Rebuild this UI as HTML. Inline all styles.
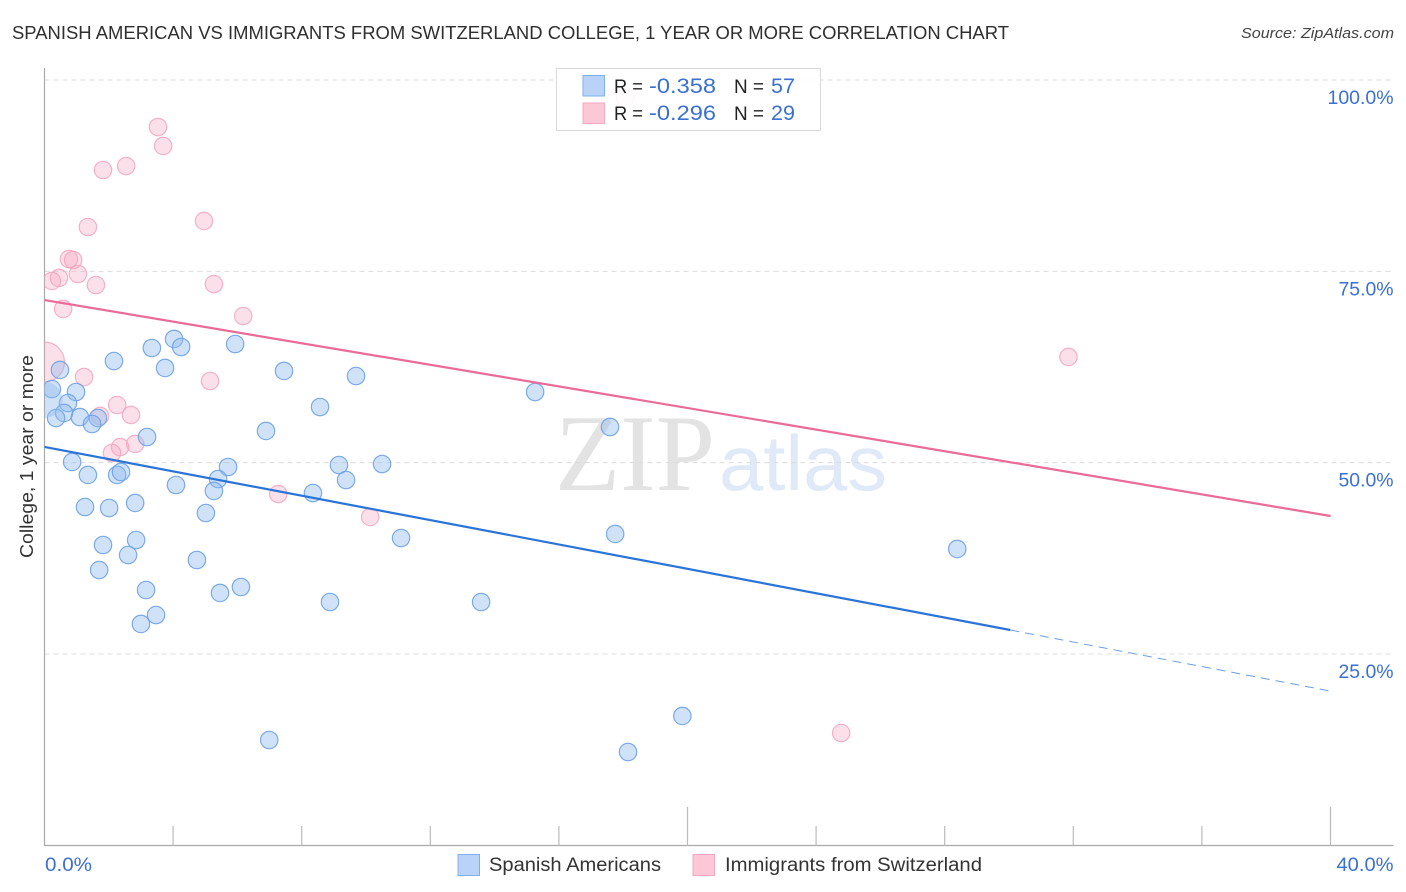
<!DOCTYPE html>
<html lang="en">
<head>
<meta charset="utf-8">
<title>Spanish American vs Immigrants from Switzerland College, 1 Year or More Correlation Chart</title>
<style>
html,body{margin:0;padding:0;background:#fff;width:1406px;height:892px;overflow:hidden}
svg{display:block;font-family:"Liberation Sans",sans-serif}
</style>
</head>
<body>
<svg id="chart" xmlns="http://www.w3.org/2000/svg" width="1406" height="892" viewBox="0 0 1406 892">
  <defs>
    <clipPath id="plot-clip"><rect x="44.5" y="60" width="1349" height="785"/></clipPath>
  </defs>
  <text x="12" y="39" font-size="18.5" fill="#2f2f2f" textLength="997" lengthAdjust="spacingAndGlyphs">SPANISH AMERICAN VS IMMIGRANTS FROM SWITZERLAND COLLEGE, 1 YEAR OR MORE CORRELATION CHART</text>
  <text x="1394" y="38" font-size="15" font-style="italic" fill="#444" text-anchor="end" textLength="153" lengthAdjust="spacingAndGlyphs">Source: ZipAtlas.com</text>
  <g>
    <text x="555" y="490" font-family="'Liberation Serif',serif" font-size="109" fill="#e3e3e3" textLength="160" lengthAdjust="spacingAndGlyphs">ZIP</text>
    <text x="719" y="490" font-size="78" fill="#dfe9f8" textLength="168" lengthAdjust="spacingAndGlyphs">atlas</text>
  </g>
  <g id="grid"></g>
  <g id="axes"></g>
  <text transform="translate(33,456.5) rotate(-90)" font-size="18" fill="#333" text-anchor="middle" textLength="203" lengthAdjust="spacingAndGlyphs">College, 1 year or more</text>
  <g id="points" clip-path="url(#plot-clip)"></g>
  <g id="trends"></g>
  <g>
    <rect x="556.5" y="68.5" width="264" height="62" fill="#fff" fill-opacity="0.9" stroke="#d9d9d9" stroke-width="1"/>
    <rect x="583" y="75.5" width="21.5" height="20.5" fill="#b9d3f8" stroke="#7fb0ea" stroke-width="1"/>
    <rect x="583" y="103" width="21.5" height="20.5" fill="#fcc8d8" stroke="#f3a9c0" stroke-width="1"/>
    <text x="614" y="93" font-size="19" fill="#222" textLength="29" lengthAdjust="spacingAndGlyphs">R =</text>
    <text x="649" y="93" font-size="21" fill="#3a70d2" textLength="67" lengthAdjust="spacingAndGlyphs">-0.358</text>
    <text x="734" y="93" font-size="19" fill="#222" textLength="30" lengthAdjust="spacingAndGlyphs">N =</text>
    <text x="771" y="93" font-size="21" fill="#3a70d2" textLength="24" lengthAdjust="spacingAndGlyphs">57</text>
    <text x="614" y="120" font-size="19" fill="#222" textLength="29" lengthAdjust="spacingAndGlyphs">R =</text>
    <text x="649" y="120" font-size="21" fill="#3a70d2" textLength="67" lengthAdjust="spacingAndGlyphs">-0.296</text>
    <text x="734" y="120" font-size="19" fill="#222" textLength="30" lengthAdjust="spacingAndGlyphs">N =</text>
    <text x="771" y="120" font-size="21" fill="#3a70d2" textLength="24" lengthAdjust="spacingAndGlyphs">29</text>
  </g>
  <g>
    <rect x="458" y="854.5" width="21.5" height="21" fill="#b9d3f8" stroke="#7fb0ea" stroke-width="1"/>
    <text x="489" y="871" font-size="19" fill="#333" textLength="172" lengthAdjust="spacingAndGlyphs">Spanish Americans</text>
    <rect x="693" y="854.5" width="21.5" height="21" fill="#fcc8d8" stroke="#f3a9c0" stroke-width="1"/>
    <text x="725" y="871" font-size="19" fill="#333" textLength="257" lengthAdjust="spacingAndGlyphs">Immigrants from Switzerland</text>
  </g>
</svg>
<script>
const blueX = [2.16,0.48,3.34,4.03,4.25,5.93,3.75,7.45,9.69,0.23,0.98,0.73,8.57,15.26,0.61,0.36,1.10,1.66,1.48,6.89,3.19,17.59,0.86,1.35,2.26,2.38,5.71,9.16,10.50,5.40,4.09,5.27,9.38,8.35,1.26,2.01,2.82,5.02,2.85,11.09,1.82,2.60,4.74,17.75,28.39,1.70,3.16,6.11,5.46,8.88,13.58,3.47,3.00,19.84,6.99,18.15,0.0];
const blueY = [63.28,62.11,64.98,66.16,65.11,65.50,62.37,61.98,61.32,59.62,59.23,57.79,57.27,59.23,56.49,55.83,55.96,55.83,55.05,54.14,53.35,54.66,50.09,48.39,48.39,48.78,49.43,49.69,49.82,47.86,47.08,46.30,47.73,46.03,44.20,44.07,44.73,43.42,39.89,40.15,39.24,37.93,37.28,40.68,38.72,35.97,33.36,33.75,32.97,31.79,31.79,30.09,28.92,16.90,13.76,12.19,58.19];
const pinkX = [0.0,3.53,3.69,1.82,2.54,4.96,1.35,0.76,0.89,1.04,0.45,0.23,1.60,5.27,0.58,6.18,1.23,5.15,31.85,2.26,2.69,1.73,2.82,2.35,2.10,7.27,10.13,24.78,18.06];
const pinkY = [63.15,93.86,91.38,88.24,88.76,81.58,80.79,76.61,76.48,74.65,74.13,73.74,73.21,73.34,70.08,69.16,61.19,60.67,63.81,57.53,56.23,56.10,52.44,52.04,51.26,45.90,42.90,14.67,97.65];
const blueTrend = [52.05, 20.2];
const pinkTrend = [71.25, 43.03];
const blueSolidEnd = 30.04;
const yTicks = [25, 50, 75, 100];
const yTickLabels = ["25.0%", "50.0%", "75.0%", "100.0%"];
const xTicks = [4, 8, 12, 16, 20, 24, 28, 32, 36, 40];
const xMajorTicks = [20, 40];
const xEndLabels = ["0.0%", "40.0%"];

const NS = "http://www.w3.org/2000/svg";
const xPos = v => 44.5 + v * 32.15;
const yPos = v => 845.3 - v * 7.653;
const make = (tag, parent) => {
  const el = document.createElementNS(NS, tag);
  parent.appendChild(el);
  return el;
};
const setAttrs = (el, attrs) => {
  Object.keys(attrs).forEach(k => el.setAttribute(k, attrs[k]));
};
const grid = document.getElementById("grid");
const axes = document.getElementById("axes");
const points = document.getElementById("points");
const trends = document.getElementById("trends");

yTicks.forEach((t, i) => {
  const line = make("line", grid);
  
  
  setAttrs(line, {x1: 44.5, x2: 1393, y1: yPos(t), y2: yPos(t), stroke: "#dcdcdc", "stroke-width": 1, "stroke-dasharray": "5 4"});
  const label = make("text", axes);
  
  
  setAttrs(label, {x: 1393.5, y: yPos(t) + 24, "font-size": 19.5, fill: "#3a70d2", "text-anchor": "end", textLength: t === 100 ? 66 : 55, lengthAdjust: "spacingAndGlyphs"});
  label.textContent = yTickLabels[i];
});

const yAxis = make("line", axes);


setAttrs(yAxis, {x1: 44.5, x2: 44.5, y1: 68, y2: 846, stroke: "#aaa", "stroke-width": 1.2});
const xAxis = make("line", axes);


setAttrs(xAxis, {x1: 44, x2: 1393.5, y1: 845.5, y2: 845.5, stroke: "#aaa", "stroke-width": 1.2});

xTicks.forEach(t => {
  const tick = make("line", axes);
  
  
  const top = xMajorTicks.includes(t) ? 807 : 826;
  setAttrs(tick, {x1: xPos(t), x2: xPos(t), y1: top, y2: 845.5, stroke: "#bbb", "stroke-width": 1.2});
});

const xLeft = make("text", axes);


setAttrs(xLeft, {x: 45, y: 871, "font-size": 19.5, fill: "#3a70d2", textLength: 47, lengthAdjust: "spacingAndGlyphs"});
xLeft.textContent = xEndLabels[0];
const xRight = make("text", axes);


setAttrs(xRight, {x: 1393.5, y: 871, "font-size": 19.5, fill: "#3a70d2", "text-anchor": "end", textLength: 57, lengthAdjust: "spacingAndGlyphs"});
xRight.textContent = xEndLabels[1];

pinkX.forEach((v, i) => {
  const c = make("circle", points);
  
  
  setAttrs(c, {cx: xPos(v), cy: yPos(pinkY[i]), r: v === 0 ? 20 : 8.7, fill: "#f8a9c3", "fill-opacity": 0.36, stroke: "#f2a5bf", "stroke-opacity": 0.85, "stroke-width": 1.2});
});
blueX.forEach((v, i) => {
  const c = make("circle", points);
  
  
  setAttrs(c, {cx: xPos(v), cy: yPos(blueY[i]), r: v === 0 ? 18 : 8.7, fill: "#8fb9ee", "fill-opacity": 0.42, stroke: "#6ea2e4", "stroke-opacity": v === 0 ? 0 : 0.9, "stroke-width": 1.2});
});

const trendY = (tr, v) => tr[0] + (tr[1] - tr[0]) * v / 40;
const pinkLine = make("line", trends);


setAttrs(pinkLine, {x1: xPos(0), y1: yPos(pinkTrend[0]), x2: xPos(40), y2: yPos(pinkTrend[1]), stroke: "#ea6a98", "stroke-width": 2.2});
const blueLine = make("line", trends);


setAttrs(blueLine, {x1: xPos(0), y1: yPos(blueTrend[0]), x2: xPos(blueSolidEnd), y2: yPos(trendY(blueTrend, blueSolidEnd)), stroke: "#2a74d8", "stroke-width": 2.2});
const blueDash = make("line", trends);


setAttrs(blueDash, {x1: xPos(blueSolidEnd), y1: yPos(trendY(blueTrend, blueSolidEnd)), x2: xPos(40) - 2, y2: yPos(blueTrend[1]), stroke: "#6a9fe4", "stroke-width": 1, "stroke-dasharray": "9 6"});
</script>
</body>
</html>
